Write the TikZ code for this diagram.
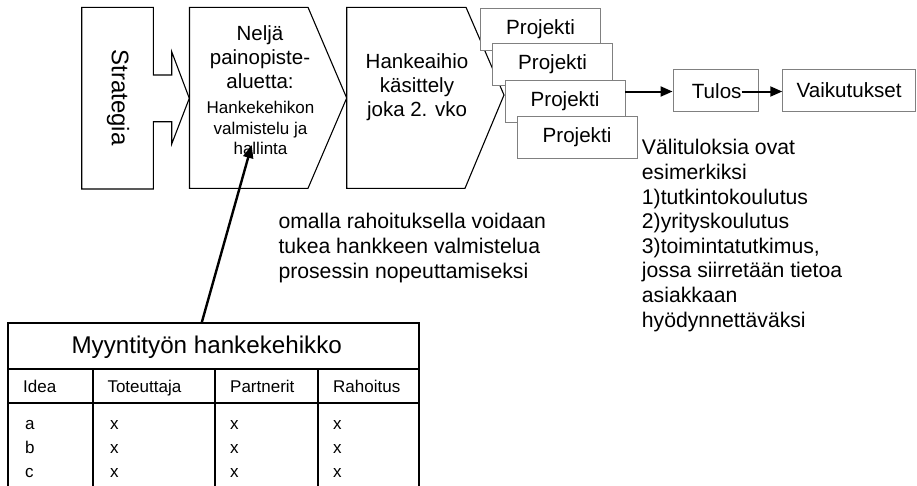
\documentclass[tikz,border=0pt]{standalone}
\usepackage{fontspec}
\setmainfont{Liberation Sans}
\usetikzlibrary{arrows.meta}
\begin{document}
\begin{tikzpicture}[x=1pt,y=-1pt,
  shp/.style={draw, line width=1.1pt, fill=white, line join=miter},
  big/.style={font=\fontsize{20.5}{23.8}\selectfont, align=center, inner sep=0},
  small/.style={font=\fontsize{17}{20.5}\selectfont, align=center, inner sep=0},
  note/.style={font=\fontsize{21.2}{24.6}\selectfont, align=left, inner sep=0, anchor=west},
  pbox/.style={draw=black!50, line width=0.9pt, fill=white, minimum width=120pt, minimum height=42pt, font=\fontsize{20.6}{24}\selectfont, inner sep=0},
  arr/.style={line width=2pt, -{Triangle[length=12pt,width=10pt]}},
  tline/.style={line width=1.8pt},
  cell/.style={font=\fontsize{17}{20}\selectfont, anchor=base west, inner sep=0}
]
\useasboundingbox[fill=white] (0,0) rectangle (917,485);

% Strategia callout
\draw[shp] (81.7,7.3) -- (153.3,7.3) -- (153.3,75) -- (171.7,75) -- (171.7,51.7)
  -- (189.3,98.3) -- (171.7,144) -- (171.7,121.7) -- (153.3,121.7) -- (153.3,189)
  -- (81.7,189) -- cycle;
\node[big, font=\fontsize{24}{28}\selectfont, rotate=-90] (strat) at (118,97.5) {Strategia};

% Neljä painopistealuetta
\draw[shp] (189.5,7.3) -- (308,7.3) -- (346.7,98) -- (308,188.3) -- (189.5,188.3) -- cycle;
\node[big] (nelja) at (260,57) {Neljä\\painopiste-\\aluetta:};
\node[small] (hanke) at (260.5,128) {Hankekehikon\\valmistelu ja\\hallinta};

% Hankeaihio
\draw[shp] (346.7,7.3) -- (466,7.3) -- (504,95) -- (465,188.3) -- (346.7,188.3) -- cycle;
\node[big] (aihio) at (417,87) {Hankeaihio\\käsittely\\joka 2. vko};

% Projekti boxes
\node[pbox] (p1) at (540.5,29) {Projekti};
\node[pbox] (p2) at (552.5,64.5) {Projekti};
\node[pbox] (p3) at (565,101.5) {Projekti};
\node[pbox] (p4) at (577,137.5) {Projekti};

% Tulos, Vaikutukset
\node[pbox, minimum width=85pt] (tulos) at (715.5,90) {};
\node[big, font=\fontsize{20.6}{24}\selectfont, inner sep=0] (tulostxt) at (716.7,91.5) {Tulos};
\node[pbox, minimum width=132.8pt] (vaik) at (849.1,90) {Vaikutukset};

\draw[arr] (p3.east |- tulostxt) -- (tulos.west |- tulostxt);
\draw[arr] (tulostxt.east) -- (vaik.west |- tulostxt);

% notes
\node[note] (oma) at (278.3,248) {omalla rahoituksella voidaan\\tukea hankkeen valmistelua\\prosessin nopeuttamiseksi};
\node[note] (vali) at (641.7,235.5) {Välituloksia ovat\\esimerkiksi\\1)tutkintokoulutus\\2)yrityskoulutus\\3)toimintatutkimus,\\jossa siirretään tietoa\\asiakkaan\\hyödynnettäväksi};

% table
\draw[tline] (8.3,486) -- (8.3,322.7) -- (419.3,322.7) -- (419.3,486);
\draw[tline] (8.3,369.3) -- (419.3,369.3);
\draw[tline] (8.3,403.3) -- (419.3,403.3);
\foreach \cx in {92.7,215,318.3} \draw[tline] (\cx,369.3) -- (\cx,486);
\node[inner sep=0, font=\fontsize{24.2}{28}\selectfont] (title) at (206.7,347) {Myyntityön hankekehikko};
\node[cell] (h1) at (23,392.5) {Idea};
\node[cell] (h2) at (107.3,392.5) {Toteuttaja};
\node[cell] (h3) at (230,392.5) {Partnerit};
\node[cell] (h4) at (333,392.5) {Rahoitus};
\foreach \r/\lab/\yy in {1/a/429.5,2/b/453.5,3/c/477.5}{
  \node[cell] (r\r c1) at (25,\yy) {\lab};
  \node[cell] (r\r c2) at (110,\yy) {x};
  \node[cell] (r\r c3) at (230,\yy) {x};
  \node[cell] (r\r c4) at (333,\yy) {x};
}

\coordinate (tabtop) at (201.7,322.7);
\coordinate (tip) at (251.7,145);
\draw[line width=2.4pt, -{Triangle[length=13pt,width=10pt]}] (tabtop) -- (tip);
\end{tikzpicture}
\end{document}
